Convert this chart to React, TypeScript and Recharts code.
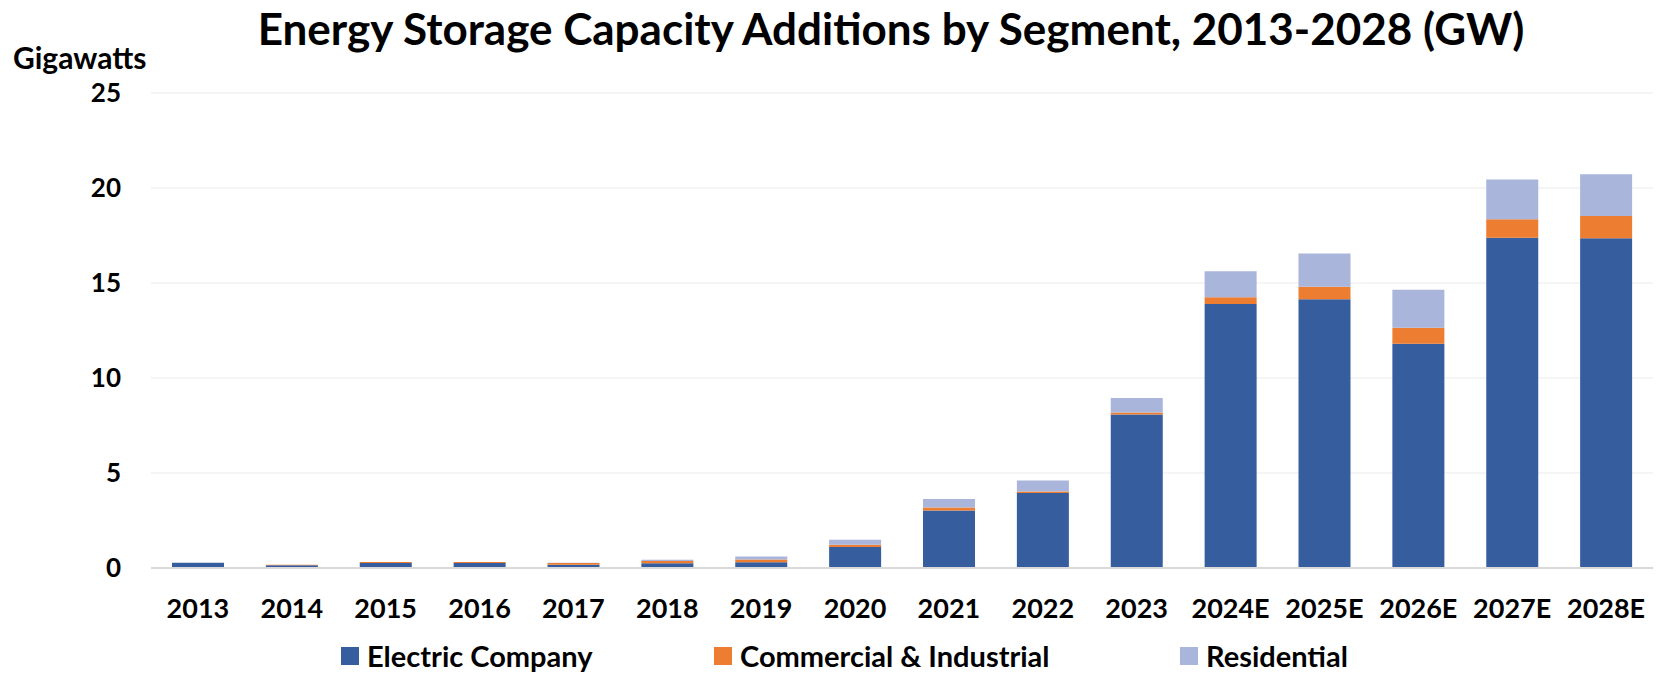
import React from 'react';
import { BarChart, Bar, XAxis, YAxis, CartesianGrid, Legend } from 'recharts';

const years = ['2013', '2014', '2015', '2016', '2017', '2018', '2019', '2020', '2021', '2022', '2023', '2024E', '2025E', '2026E', '2027E', '2028E'];
const electricCompany = [0.28, 0.15, 0.26, 0.26, 0.17, 0.25, 0.3, 1.1, 3.03, 3.95, 8.08, 13.9, 14.15, 11.8, 17.38, 17.35];
const commercialIndustrial = [0, 0.02, 0.05, 0.05, 0.09, 0.12, 0.15, 0.13, 0.16, 0.08, 0.11, 0.35, 0.65, 0.85, 0.97, 1.18];
const residential = [0, 0, 0.01, 0.01, 0.02, 0.07, 0.16, 0.26, 0.44, 0.58, 0.76, 1.37, 1.75, 2.0, 2.1, 2.2];
const yTicks = [0, 5, 10, 15, 20, 25];

const series = [
  { key: 'electric', name: 'Electric Company', color: '#365E9F' },
  { key: 'commercial', name: 'Commercial & Industrial', color: '#ED7D31' },
  { key: 'residential', name: 'Residential', color: '#A9B5DA' },
];

const data = years.map((year, i) => ({
  year,
  electric: electricCompany[i],
  commercial: commercialIndustrial[i],
  residential: residential[i],
}));

const font = 'Lato, "DejaVu Sans", sans-serif';
const itemWidths = [373, 466, 220];

function LegendRow() {
  return (
    <div style={{ display: 'flex', paddingLeft: 341, height: 36, alignItems: 'center', fontFamily: font, fontWeight: 700, fontSize: 29, lineHeight: '32px', color: '#000', transform: 'translateY(2px)' }}>
      {series.map((s, i) => (
        <div key={s.key} style={{ width: itemWidths[i], display: 'flex', alignItems: 'center', whiteSpace: 'nowrap' }}>
          <span style={{ display: 'inline-block', width: 18, height: 18, background: s.color, marginRight: 8 }} />
          <span>{s.name}</span>
        </div>
      ))}
    </div>
  );
}

export default function App() {
  return (
    <div style={{ position: 'absolute', left: 0, top: 0, width: 1656, height: 674, background: '#fff', fontFamily: font }}>
      <div style={{ position: 'absolute', left: 891, top: 4, transform: 'translateX(-50%)', whiteSpace: 'nowrap', fontSize: 44, fontWeight: 700, color: '#000', lineHeight: '48px' }}>
        Energy Storage Capacity Additions by Segment, 2013-2028 (GW)
      </div>
      <div style={{ position: 'absolute', left: 13, top: 41, fontSize: 30, fontWeight: 700, color: '#000', lineHeight: '32px' }}>
        Gigawatts
      </div>
      <BarChart width={1656} height={674} data={data} margin={{ top: 93, right: 3, left: 0, bottom: 2 }}>
        <CartesianGrid vertical={false} stroke="#ebebeb" strokeWidth={1.2} />
        <XAxis
          dataKey="year"
          height={68}
          tickLine={false}
          tickSize={0}
          tickMargin={31}
          axisLine={{ stroke: '#d9d9d9', strokeWidth: 2 }}
          interval={0}
          tick={{ fill: '#000', fontSize: 27, fontWeight: 700, fontFamily: font }}
        />
        <YAxis
          width={151}
          domain={[0, 25]}
          ticks={yTicks}
          axisLine={false}
          tickLine={false}
          tickSize={0}
          tickMargin={30}
          tick={{ fill: '#000', fontSize: 26, fontWeight: 700, fontFamily: font }}
        />
        <Legend verticalAlign="bottom" content={() => <LegendRow />} />
        {series.map((s) => (
          <Bar key={s.key} dataKey={s.key} name={s.name} stackId="a" fill={s.color} barSize={52} isAnimationActive={false} />
        ))}
      </BarChart>
    </div>
  );
}
